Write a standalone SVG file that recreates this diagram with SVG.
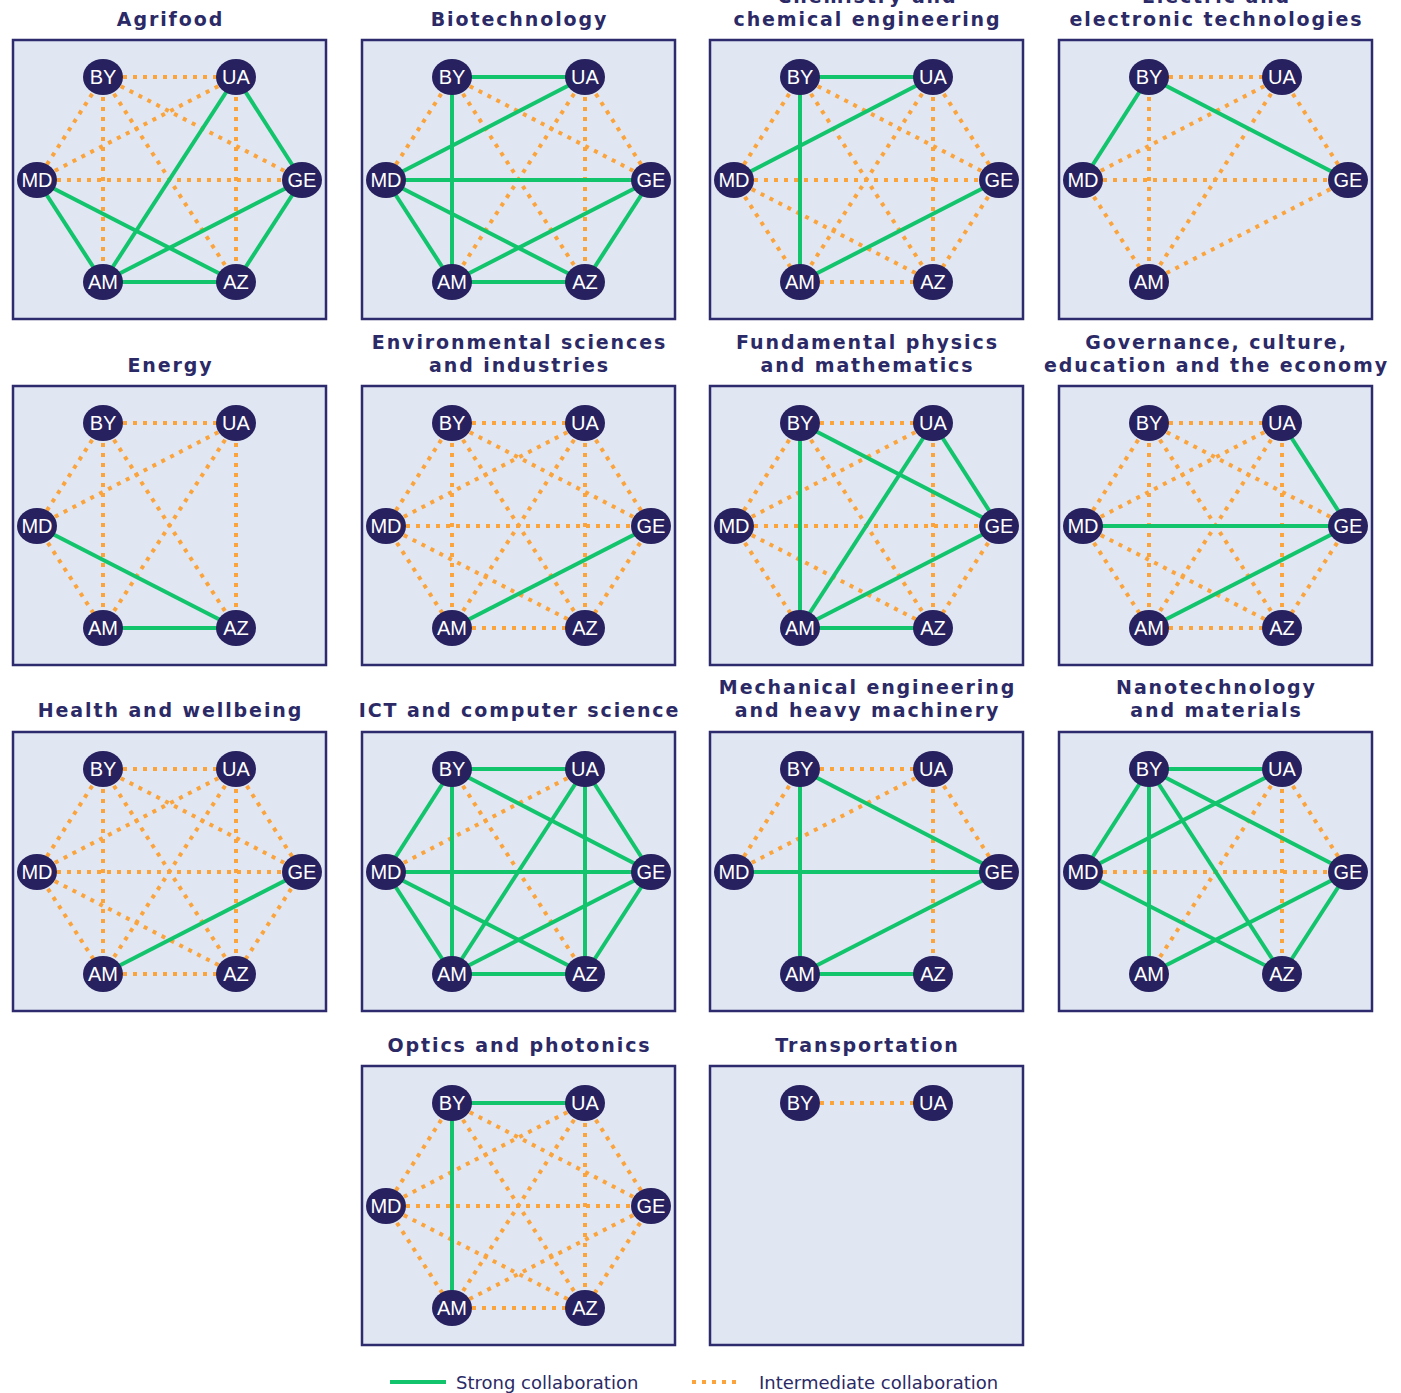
<svg xmlns="http://www.w3.org/2000/svg" width="1401" height="1393" viewBox="0 0 1401 1393">
<style>
.bg{fill:#e1e6f3;stroke:#2e2a6e;stroke-width:2.5}
.s{stroke:#12c46c;stroke-width:4;fill:none}
.d{stroke:#fba43c;stroke-width:4;fill:none;stroke-dasharray:4 6}
.n ellipse{fill:#27215f}
.n text{fill:#ffffff;font-family:"Liberation Sans",Arial,sans-serif;font-size:20px;text-anchor:middle}
.t{fill:#2b2a66;font-family:"DejaVu Sans",Verdana,sans-serif;font-weight:bold;font-size:19px;letter-spacing:1.9px;text-anchor:middle}
.lg{fill:#2b2a66;font-family:"DejaVu Sans",Verdana,sans-serif;font-size:18px}
</style>
<rect width="1401" height="1393" fill="#ffffff"/>

<!-- panel backgrounds -->
<g id="panels">
<rect class="bg" x="13" y="40" width="313" height="279"/>
<rect class="bg" x="362" y="40" width="313" height="279"/>
<rect class="bg" x="710" y="40" width="313" height="279"/>
<rect class="bg" x="1059" y="40" width="313" height="279"/>
<rect class="bg" x="13" y="386" width="313" height="279"/>
<rect class="bg" x="362" y="386" width="313" height="279"/>
<rect class="bg" x="710" y="386" width="313" height="279"/>
<rect class="bg" x="1059" y="386" width="313" height="279"/>
<rect class="bg" x="13" y="732" width="313" height="279"/>
<rect class="bg" x="362" y="732" width="313" height="279"/>
<rect class="bg" x="710" y="732" width="313" height="279"/>
<rect class="bg" x="1059" y="732" width="313" height="279"/>
<rect class="bg" x="362" y="1066" width="313" height="279"/>
<rect class="bg" x="710" y="1066" width="313" height="279"/>
</g>

<!-- titles -->
<g id="titles">
<text class="t" x="170.5" y="26">Agrifood</text>
<text class="t" x="519.5" y="26">Biotechnology</text>
<text class="t" x="867.5" y="3">Chemistry and</text>
<text class="t" x="867.5" y="26">chemical engineering</text>
<text class="t" x="1216.5" y="3">Electric and</text>
<text class="t" x="1216.5" y="26">electronic technologies</text>
<text class="t" x="170.5" y="372">Energy</text>
<text class="t" x="519.5" y="349">Environmental sciences</text>
<text class="t" x="519.5" y="372">and industries</text>
<text class="t" x="867.5" y="349">Fundamental physics</text>
<text class="t" x="867.5" y="372">and mathematics</text>
<text class="t" x="1216.5" y="349">Governance, culture,</text>
<text class="t" x="1216.5" y="372">education and the economy</text>
<text class="t" x="170.5" y="717">Health and wellbeing</text>
<text class="t" x="519.5" y="717">ICT and computer science</text>
<text class="t" x="867.5" y="694">Mechanical engineering</text>
<text class="t" x="867.5" y="717">and heavy machinery</text>
<text class="t" x="1216.5" y="694">Nanotechnology</text>
<text class="t" x="1216.5" y="717">and materials</text>
<text class="t" x="519.5" y="1052">Optics and photonics</text>
<text class="t" x="867.5" y="1052">Transportation</text>
</g>

<!-- connectors -->
<g id="connectors">
<g id="c-agrifood" transform="translate(13,40)">
<line class="d" x1="90" y1="37" x2="223" y2="37"/>
<line class="d" x1="90" y1="37" x2="24" y2="140"/>
<line class="d" x1="90" y1="37" x2="90" y2="242"/>
<line class="d" x1="90" y1="37" x2="289" y2="140"/>
<line class="d" x1="90" y1="37" x2="223" y2="242"/>
<line class="d" x1="223" y1="37" x2="24" y2="140"/>
<line class="d" x1="223" y1="37" x2="223" y2="242"/>
<line class="d" x1="24" y1="140" x2="289" y2="140"/>
<line class="s" x1="223" y1="37" x2="289" y2="140"/>
<line class="s" x1="223" y1="37" x2="90" y2="242"/>
<line class="s" x1="24" y1="140" x2="90" y2="242"/>
<line class="s" x1="24" y1="140" x2="223" y2="242"/>
<line class="s" x1="289" y1="140" x2="90" y2="242"/>
<line class="s" x1="289" y1="140" x2="223" y2="242"/>
<line class="s" x1="90" y1="242" x2="223" y2="242"/>
</g>
<g id="c-biotechnology" transform="translate(362,40)">
<line class="d" x1="90" y1="37" x2="24" y2="140"/>
<line class="d" x1="90" y1="37" x2="289" y2="140"/>
<line class="d" x1="90" y1="37" x2="223" y2="242"/>
<line class="d" x1="223" y1="37" x2="90" y2="242"/>
<line class="d" x1="223" y1="37" x2="223" y2="242"/>
<line class="d" x1="223" y1="37" x2="289" y2="140"/>
<line class="s" x1="90" y1="37" x2="223" y2="37"/>
<line class="s" x1="90" y1="37" x2="90" y2="242"/>
<line class="s" x1="223" y1="37" x2="24" y2="140"/>
<line class="s" x1="24" y1="140" x2="289" y2="140"/>
<line class="s" x1="24" y1="140" x2="90" y2="242"/>
<line class="s" x1="24" y1="140" x2="223" y2="242"/>
<line class="s" x1="289" y1="140" x2="90" y2="242"/>
<line class="s" x1="289" y1="140" x2="223" y2="242"/>
<line class="s" x1="90" y1="242" x2="223" y2="242"/>
</g>
<g id="c-chemistry" transform="translate(710,40)">
<line class="d" x1="90" y1="37" x2="24" y2="140"/>
<line class="d" x1="90" y1="37" x2="289" y2="140"/>
<line class="d" x1="90" y1="37" x2="223" y2="242"/>
<line class="d" x1="223" y1="37" x2="289" y2="140"/>
<line class="d" x1="223" y1="37" x2="90" y2="242"/>
<line class="d" x1="223" y1="37" x2="223" y2="242"/>
<line class="d" x1="24" y1="140" x2="289" y2="140"/>
<line class="d" x1="24" y1="140" x2="90" y2="242"/>
<line class="d" x1="24" y1="140" x2="223" y2="242"/>
<line class="d" x1="289" y1="140" x2="223" y2="242"/>
<line class="d" x1="90" y1="242" x2="223" y2="242"/>
<line class="s" x1="90" y1="37" x2="223" y2="37"/>
<line class="s" x1="90" y1="37" x2="90" y2="242"/>
<line class="s" x1="223" y1="37" x2="24" y2="140"/>
<line class="s" x1="289" y1="140" x2="90" y2="242"/>
</g>
<g id="c-electric" transform="translate(1059,40)">
<line class="d" x1="90" y1="37" x2="223" y2="37"/>
<line class="d" x1="90" y1="37" x2="90" y2="242"/>
<line class="d" x1="223" y1="37" x2="24" y2="140"/>
<line class="d" x1="223" y1="37" x2="90" y2="242"/>
<line class="d" x1="223" y1="37" x2="289" y2="140"/>
<line class="d" x1="24" y1="140" x2="289" y2="140"/>
<line class="d" x1="24" y1="140" x2="90" y2="242"/>
<line class="d" x1="289" y1="140" x2="90" y2="242"/>
<line class="s" x1="90" y1="37" x2="24" y2="140"/>
<line class="s" x1="90" y1="37" x2="289" y2="140"/>
</g>
<g id="c-energy" transform="translate(13,386)">
<line class="d" x1="90" y1="37" x2="223" y2="37"/>
<line class="d" x1="90" y1="37" x2="24" y2="140"/>
<line class="d" x1="90" y1="37" x2="90" y2="242"/>
<line class="d" x1="90" y1="37" x2="223" y2="242"/>
<line class="d" x1="223" y1="37" x2="24" y2="140"/>
<line class="d" x1="223" y1="37" x2="90" y2="242"/>
<line class="d" x1="223" y1="37" x2="223" y2="242"/>
<line class="d" x1="24" y1="140" x2="90" y2="242"/>
<line class="s" x1="24" y1="140" x2="223" y2="242"/>
<line class="s" x1="90" y1="242" x2="223" y2="242"/>
</g>
<g id="c-environmental" transform="translate(362,386)">
<line class="d" x1="90" y1="37" x2="223" y2="37"/>
<line class="d" x1="90" y1="37" x2="24" y2="140"/>
<line class="d" x1="90" y1="37" x2="289" y2="140"/>
<line class="d" x1="90" y1="37" x2="90" y2="242"/>
<line class="d" x1="90" y1="37" x2="223" y2="242"/>
<line class="d" x1="223" y1="37" x2="24" y2="140"/>
<line class="d" x1="223" y1="37" x2="289" y2="140"/>
<line class="d" x1="223" y1="37" x2="90" y2="242"/>
<line class="d" x1="223" y1="37" x2="223" y2="242"/>
<line class="d" x1="24" y1="140" x2="289" y2="140"/>
<line class="d" x1="24" y1="140" x2="90" y2="242"/>
<line class="d" x1="24" y1="140" x2="223" y2="242"/>
<line class="d" x1="289" y1="140" x2="223" y2="242"/>
<line class="d" x1="90" y1="242" x2="223" y2="242"/>
<line class="s" x1="289" y1="140" x2="90" y2="242"/>
</g>
<g id="c-physics" transform="translate(710,386)">
<line class="d" x1="90" y1="37" x2="223" y2="37"/>
<line class="d" x1="90" y1="37" x2="24" y2="140"/>
<line class="d" x1="90" y1="37" x2="223" y2="242"/>
<line class="d" x1="223" y1="37" x2="24" y2="140"/>
<line class="d" x1="223" y1="37" x2="223" y2="242"/>
<line class="d" x1="24" y1="140" x2="289" y2="140"/>
<line class="d" x1="24" y1="140" x2="90" y2="242"/>
<line class="d" x1="24" y1="140" x2="223" y2="242"/>
<line class="d" x1="289" y1="140" x2="223" y2="242"/>
<line class="s" x1="90" y1="37" x2="90" y2="242"/>
<line class="s" x1="90" y1="37" x2="289" y2="140"/>
<line class="s" x1="223" y1="37" x2="90" y2="242"/>
<line class="s" x1="223" y1="37" x2="289" y2="140"/>
<line class="s" x1="289" y1="140" x2="90" y2="242"/>
<line class="s" x1="90" y1="242" x2="223" y2="242"/>
</g>
<g id="c-governance" transform="translate(1059,386)">
<line class="d" x1="90" y1="37" x2="223" y2="37"/>
<line class="d" x1="90" y1="37" x2="24" y2="140"/>
<line class="d" x1="90" y1="37" x2="289" y2="140"/>
<line class="d" x1="90" y1="37" x2="90" y2="242"/>
<line class="d" x1="90" y1="37" x2="223" y2="242"/>
<line class="d" x1="223" y1="37" x2="24" y2="140"/>
<line class="d" x1="223" y1="37" x2="90" y2="242"/>
<line class="d" x1="223" y1="37" x2="223" y2="242"/>
<line class="d" x1="24" y1="140" x2="90" y2="242"/>
<line class="d" x1="24" y1="140" x2="223" y2="242"/>
<line class="d" x1="289" y1="140" x2="223" y2="242"/>
<line class="d" x1="90" y1="242" x2="223" y2="242"/>
<line class="s" x1="223" y1="37" x2="289" y2="140"/>
<line class="s" x1="24" y1="140" x2="289" y2="140"/>
<line class="s" x1="289" y1="140" x2="90" y2="242"/>
</g>
<g id="c-health" transform="translate(13,732)">
<line class="d" x1="90" y1="37" x2="223" y2="37"/>
<line class="d" x1="90" y1="37" x2="24" y2="140"/>
<line class="d" x1="90" y1="37" x2="289" y2="140"/>
<line class="d" x1="90" y1="37" x2="90" y2="242"/>
<line class="d" x1="90" y1="37" x2="223" y2="242"/>
<line class="d" x1="223" y1="37" x2="24" y2="140"/>
<line class="d" x1="223" y1="37" x2="289" y2="140"/>
<line class="d" x1="223" y1="37" x2="90" y2="242"/>
<line class="d" x1="223" y1="37" x2="223" y2="242"/>
<line class="d" x1="24" y1="140" x2="289" y2="140"/>
<line class="d" x1="24" y1="140" x2="90" y2="242"/>
<line class="d" x1="24" y1="140" x2="223" y2="242"/>
<line class="d" x1="289" y1="140" x2="223" y2="242"/>
<line class="d" x1="90" y1="242" x2="223" y2="242"/>
<line class="s" x1="289" y1="140" x2="90" y2="242"/>
</g>
<g id="c-ict" transform="translate(362,732)">
<line class="d" x1="223" y1="37" x2="24" y2="140"/>
<line class="d" x1="90" y1="37" x2="223" y2="242"/>
<line class="s" x1="90" y1="37" x2="223" y2="37"/>
<line class="s" x1="90" y1="37" x2="24" y2="140"/>
<line class="s" x1="90" y1="37" x2="90" y2="242"/>
<line class="s" x1="90" y1="37" x2="289" y2="140"/>
<line class="s" x1="223" y1="37" x2="90" y2="242"/>
<line class="s" x1="223" y1="37" x2="223" y2="242"/>
<line class="s" x1="223" y1="37" x2="289" y2="140"/>
<line class="s" x1="24" y1="140" x2="289" y2="140"/>
<line class="s" x1="24" y1="140" x2="90" y2="242"/>
<line class="s" x1="24" y1="140" x2="223" y2="242"/>
<line class="s" x1="289" y1="140" x2="90" y2="242"/>
<line class="s" x1="289" y1="140" x2="223" y2="242"/>
<line class="s" x1="90" y1="242" x2="223" y2="242"/>
</g>
<g id="c-mechanical" transform="translate(710,732)">
<line class="d" x1="90" y1="37" x2="223" y2="37"/>
<line class="d" x1="90" y1="37" x2="24" y2="140"/>
<line class="d" x1="223" y1="37" x2="24" y2="140"/>
<line class="d" x1="223" y1="37" x2="289" y2="140"/>
<line class="d" x1="223" y1="37" x2="223" y2="242"/>
<line class="s" x1="90" y1="37" x2="289" y2="140"/>
<line class="s" x1="90" y1="37" x2="90" y2="242"/>
<line class="s" x1="24" y1="140" x2="289" y2="140"/>
<line class="s" x1="289" y1="140" x2="90" y2="242"/>
<line class="s" x1="90" y1="242" x2="223" y2="242"/>
</g>
<g id="c-nanotechnology" transform="translate(1059,732)">
<line class="d" x1="223" y1="37" x2="90" y2="242"/>
<line class="d" x1="223" y1="37" x2="223" y2="242"/>
<line class="d" x1="223" y1="37" x2="289" y2="140"/>
<line class="d" x1="24" y1="140" x2="289" y2="140"/>
<line class="s" x1="90" y1="37" x2="223" y2="37"/>
<line class="s" x1="90" y1="37" x2="24" y2="140"/>
<line class="s" x1="90" y1="37" x2="90" y2="242"/>
<line class="s" x1="90" y1="37" x2="289" y2="140"/>
<line class="s" x1="90" y1="37" x2="223" y2="242"/>
<line class="s" x1="223" y1="37" x2="24" y2="140"/>
<line class="s" x1="24" y1="140" x2="223" y2="242"/>
<line class="s" x1="289" y1="140" x2="90" y2="242"/>
<line class="s" x1="289" y1="140" x2="223" y2="242"/>
</g>
<g id="c-optics" transform="translate(362,1066)">
<line class="d" x1="90" y1="37" x2="24" y2="140"/>
<line class="d" x1="90" y1="37" x2="289" y2="140"/>
<line class="d" x1="90" y1="37" x2="223" y2="242"/>
<line class="d" x1="223" y1="37" x2="24" y2="140"/>
<line class="d" x1="223" y1="37" x2="289" y2="140"/>
<line class="d" x1="223" y1="37" x2="90" y2="242"/>
<line class="d" x1="223" y1="37" x2="223" y2="242"/>
<line class="d" x1="24" y1="140" x2="289" y2="140"/>
<line class="d" x1="24" y1="140" x2="90" y2="242"/>
<line class="d" x1="24" y1="140" x2="223" y2="242"/>
<line class="d" x1="289" y1="140" x2="90" y2="242"/>
<line class="d" x1="289" y1="140" x2="223" y2="242"/>
<line class="d" x1="90" y1="242" x2="223" y2="242"/>
<line class="s" x1="90" y1="37" x2="223" y2="37"/>
<line class="s" x1="90" y1="37" x2="90" y2="242"/>
</g>
<g id="c-transportation" transform="translate(710,1066)">
<line class="d" x1="90" y1="37" x2="223" y2="37"/>
</g>
</g>

<!-- nodes -->
<g id="nodes-agrifood" transform="translate(13,40)">
<g id="agrifood-BY" class="n"><ellipse cx="90" cy="37" rx="20" ry="18"/><text x="90" y="44">BY</text></g>
<g id="agrifood-UA" class="n"><ellipse cx="223" cy="37" rx="20" ry="18"/><text x="223" y="44">UA</text></g>
<g id="agrifood-MD" class="n"><ellipse cx="24" cy="140" rx="20" ry="18"/><text x="24" y="147">MD</text></g>
<g id="agrifood-GE" class="n"><ellipse cx="289" cy="140" rx="20" ry="18"/><text x="289" y="147">GE</text></g>
<g id="agrifood-AM" class="n"><ellipse cx="90" cy="242" rx="20" ry="18"/><text x="90" y="249">AM</text></g>
<g id="agrifood-AZ" class="n"><ellipse cx="223" cy="242" rx="20" ry="18"/><text x="223" y="249">AZ</text></g>
</g>
<g id="nodes-biotechnology" transform="translate(362,40)">
<g id="biotechnology-BY" class="n"><ellipse cx="90" cy="37" rx="20" ry="18"/><text x="90" y="44">BY</text></g>
<g id="biotechnology-UA" class="n"><ellipse cx="223" cy="37" rx="20" ry="18"/><text x="223" y="44">UA</text></g>
<g id="biotechnology-MD" class="n"><ellipse cx="24" cy="140" rx="20" ry="18"/><text x="24" y="147">MD</text></g>
<g id="biotechnology-GE" class="n"><ellipse cx="289" cy="140" rx="20" ry="18"/><text x="289" y="147">GE</text></g>
<g id="biotechnology-AM" class="n"><ellipse cx="90" cy="242" rx="20" ry="18"/><text x="90" y="249">AM</text></g>
<g id="biotechnology-AZ" class="n"><ellipse cx="223" cy="242" rx="20" ry="18"/><text x="223" y="249">AZ</text></g>
</g>
<g id="nodes-chemistry" transform="translate(710,40)">
<g id="chemistry-BY" class="n"><ellipse cx="90" cy="37" rx="20" ry="18"/><text x="90" y="44">BY</text></g>
<g id="chemistry-UA" class="n"><ellipse cx="223" cy="37" rx="20" ry="18"/><text x="223" y="44">UA</text></g>
<g id="chemistry-MD" class="n"><ellipse cx="24" cy="140" rx="20" ry="18"/><text x="24" y="147">MD</text></g>
<g id="chemistry-GE" class="n"><ellipse cx="289" cy="140" rx="20" ry="18"/><text x="289" y="147">GE</text></g>
<g id="chemistry-AM" class="n"><ellipse cx="90" cy="242" rx="20" ry="18"/><text x="90" y="249">AM</text></g>
<g id="chemistry-AZ" class="n"><ellipse cx="223" cy="242" rx="20" ry="18"/><text x="223" y="249">AZ</text></g>
</g>
<g id="nodes-electric" transform="translate(1059,40)">
<g id="electric-BY" class="n"><ellipse cx="90" cy="37" rx="20" ry="18"/><text x="90" y="44">BY</text></g>
<g id="electric-UA" class="n"><ellipse cx="223" cy="37" rx="20" ry="18"/><text x="223" y="44">UA</text></g>
<g id="electric-MD" class="n"><ellipse cx="24" cy="140" rx="20" ry="18"/><text x="24" y="147">MD</text></g>
<g id="electric-GE" class="n"><ellipse cx="289" cy="140" rx="20" ry="18"/><text x="289" y="147">GE</text></g>
<g id="electric-AM" class="n"><ellipse cx="90" cy="242" rx="20" ry="18"/><text x="90" y="249">AM</text></g>
</g>
<g id="nodes-energy" transform="translate(13,386)">
<g id="energy-BY" class="n"><ellipse cx="90" cy="37" rx="20" ry="18"/><text x="90" y="44">BY</text></g>
<g id="energy-UA" class="n"><ellipse cx="223" cy="37" rx="20" ry="18"/><text x="223" y="44">UA</text></g>
<g id="energy-MD" class="n"><ellipse cx="24" cy="140" rx="20" ry="18"/><text x="24" y="147">MD</text></g>
<g id="energy-AM" class="n"><ellipse cx="90" cy="242" rx="20" ry="18"/><text x="90" y="249">AM</text></g>
<g id="energy-AZ" class="n"><ellipse cx="223" cy="242" rx="20" ry="18"/><text x="223" y="249">AZ</text></g>
</g>
<g id="nodes-environmental" transform="translate(362,386)">
<g id="environmental-BY" class="n"><ellipse cx="90" cy="37" rx="20" ry="18"/><text x="90" y="44">BY</text></g>
<g id="environmental-UA" class="n"><ellipse cx="223" cy="37" rx="20" ry="18"/><text x="223" y="44">UA</text></g>
<g id="environmental-MD" class="n"><ellipse cx="24" cy="140" rx="20" ry="18"/><text x="24" y="147">MD</text></g>
<g id="environmental-GE" class="n"><ellipse cx="289" cy="140" rx="20" ry="18"/><text x="289" y="147">GE</text></g>
<g id="environmental-AM" class="n"><ellipse cx="90" cy="242" rx="20" ry="18"/><text x="90" y="249">AM</text></g>
<g id="environmental-AZ" class="n"><ellipse cx="223" cy="242" rx="20" ry="18"/><text x="223" y="249">AZ</text></g>
</g>
<g id="nodes-physics" transform="translate(710,386)">
<g id="physics-BY" class="n"><ellipse cx="90" cy="37" rx="20" ry="18"/><text x="90" y="44">BY</text></g>
<g id="physics-UA" class="n"><ellipse cx="223" cy="37" rx="20" ry="18"/><text x="223" y="44">UA</text></g>
<g id="physics-MD" class="n"><ellipse cx="24" cy="140" rx="20" ry="18"/><text x="24" y="147">MD</text></g>
<g id="physics-GE" class="n"><ellipse cx="289" cy="140" rx="20" ry="18"/><text x="289" y="147">GE</text></g>
<g id="physics-AM" class="n"><ellipse cx="90" cy="242" rx="20" ry="18"/><text x="90" y="249">AM</text></g>
<g id="physics-AZ" class="n"><ellipse cx="223" cy="242" rx="20" ry="18"/><text x="223" y="249">AZ</text></g>
</g>
<g id="nodes-governance" transform="translate(1059,386)">
<g id="governance-BY" class="n"><ellipse cx="90" cy="37" rx="20" ry="18"/><text x="90" y="44">BY</text></g>
<g id="governance-UA" class="n"><ellipse cx="223" cy="37" rx="20" ry="18"/><text x="223" y="44">UA</text></g>
<g id="governance-MD" class="n"><ellipse cx="24" cy="140" rx="20" ry="18"/><text x="24" y="147">MD</text></g>
<g id="governance-GE" class="n"><ellipse cx="289" cy="140" rx="20" ry="18"/><text x="289" y="147">GE</text></g>
<g id="governance-AM" class="n"><ellipse cx="90" cy="242" rx="20" ry="18"/><text x="90" y="249">AM</text></g>
<g id="governance-AZ" class="n"><ellipse cx="223" cy="242" rx="20" ry="18"/><text x="223" y="249">AZ</text></g>
</g>
<g id="nodes-health" transform="translate(13,732)">
<g id="health-BY" class="n"><ellipse cx="90" cy="37" rx="20" ry="18"/><text x="90" y="44">BY</text></g>
<g id="health-UA" class="n"><ellipse cx="223" cy="37" rx="20" ry="18"/><text x="223" y="44">UA</text></g>
<g id="health-MD" class="n"><ellipse cx="24" cy="140" rx="20" ry="18"/><text x="24" y="147">MD</text></g>
<g id="health-GE" class="n"><ellipse cx="289" cy="140" rx="20" ry="18"/><text x="289" y="147">GE</text></g>
<g id="health-AM" class="n"><ellipse cx="90" cy="242" rx="20" ry="18"/><text x="90" y="249">AM</text></g>
<g id="health-AZ" class="n"><ellipse cx="223" cy="242" rx="20" ry="18"/><text x="223" y="249">AZ</text></g>
</g>
<g id="nodes-ict" transform="translate(362,732)">
<g id="ict-BY" class="n"><ellipse cx="90" cy="37" rx="20" ry="18"/><text x="90" y="44">BY</text></g>
<g id="ict-UA" class="n"><ellipse cx="223" cy="37" rx="20" ry="18"/><text x="223" y="44">UA</text></g>
<g id="ict-MD" class="n"><ellipse cx="24" cy="140" rx="20" ry="18"/><text x="24" y="147">MD</text></g>
<g id="ict-GE" class="n"><ellipse cx="289" cy="140" rx="20" ry="18"/><text x="289" y="147">GE</text></g>
<g id="ict-AM" class="n"><ellipse cx="90" cy="242" rx="20" ry="18"/><text x="90" y="249">AM</text></g>
<g id="ict-AZ" class="n"><ellipse cx="223" cy="242" rx="20" ry="18"/><text x="223" y="249">AZ</text></g>
</g>
<g id="nodes-mechanical" transform="translate(710,732)">
<g id="mechanical-BY" class="n"><ellipse cx="90" cy="37" rx="20" ry="18"/><text x="90" y="44">BY</text></g>
<g id="mechanical-UA" class="n"><ellipse cx="223" cy="37" rx="20" ry="18"/><text x="223" y="44">UA</text></g>
<g id="mechanical-MD" class="n"><ellipse cx="24" cy="140" rx="20" ry="18"/><text x="24" y="147">MD</text></g>
<g id="mechanical-GE" class="n"><ellipse cx="289" cy="140" rx="20" ry="18"/><text x="289" y="147">GE</text></g>
<g id="mechanical-AM" class="n"><ellipse cx="90" cy="242" rx="20" ry="18"/><text x="90" y="249">AM</text></g>
<g id="mechanical-AZ" class="n"><ellipse cx="223" cy="242" rx="20" ry="18"/><text x="223" y="249">AZ</text></g>
</g>
<g id="nodes-nanotechnology" transform="translate(1059,732)">
<g id="nanotechnology-BY" class="n"><ellipse cx="90" cy="37" rx="20" ry="18"/><text x="90" y="44">BY</text></g>
<g id="nanotechnology-UA" class="n"><ellipse cx="223" cy="37" rx="20" ry="18"/><text x="223" y="44">UA</text></g>
<g id="nanotechnology-MD" class="n"><ellipse cx="24" cy="140" rx="20" ry="18"/><text x="24" y="147">MD</text></g>
<g id="nanotechnology-GE" class="n"><ellipse cx="289" cy="140" rx="20" ry="18"/><text x="289" y="147">GE</text></g>
<g id="nanotechnology-AM" class="n"><ellipse cx="90" cy="242" rx="20" ry="18"/><text x="90" y="249">AM</text></g>
<g id="nanotechnology-AZ" class="n"><ellipse cx="223" cy="242" rx="20" ry="18"/><text x="223" y="249">AZ</text></g>
</g>
<g id="nodes-optics" transform="translate(362,1066)">
<g id="optics-BY" class="n"><ellipse cx="90" cy="37" rx="20" ry="18"/><text x="90" y="44">BY</text></g>
<g id="optics-UA" class="n"><ellipse cx="223" cy="37" rx="20" ry="18"/><text x="223" y="44">UA</text></g>
<g id="optics-MD" class="n"><ellipse cx="24" cy="140" rx="20" ry="18"/><text x="24" y="147">MD</text></g>
<g id="optics-GE" class="n"><ellipse cx="289" cy="140" rx="20" ry="18"/><text x="289" y="147">GE</text></g>
<g id="optics-AM" class="n"><ellipse cx="90" cy="242" rx="20" ry="18"/><text x="90" y="249">AM</text></g>
<g id="optics-AZ" class="n"><ellipse cx="223" cy="242" rx="20" ry="18"/><text x="223" y="249">AZ</text></g>
</g>
<g id="nodes-transportation" transform="translate(710,1066)">
<g id="transportation-BY" class="n"><ellipse cx="90" cy="37" rx="20" ry="18"/><text x="90" y="44">BY</text></g>
<g id="transportation-UA" class="n"><ellipse cx="223" cy="37" rx="20" ry="18"/><text x="223" y="44">UA</text></g>
</g>

<!-- legend -->
<g id="legend">
<line class="s" x1="390" y1="1382" x2="446" y2="1382"/>
<text class="lg" x="456" y="1389">Strong collaboration</text>
<line class="d" x1="692" y1="1382" x2="742" y2="1382"/>
<text class="lg" x="759" y="1389">Intermediate collaboration</text>
</g>
</svg>
